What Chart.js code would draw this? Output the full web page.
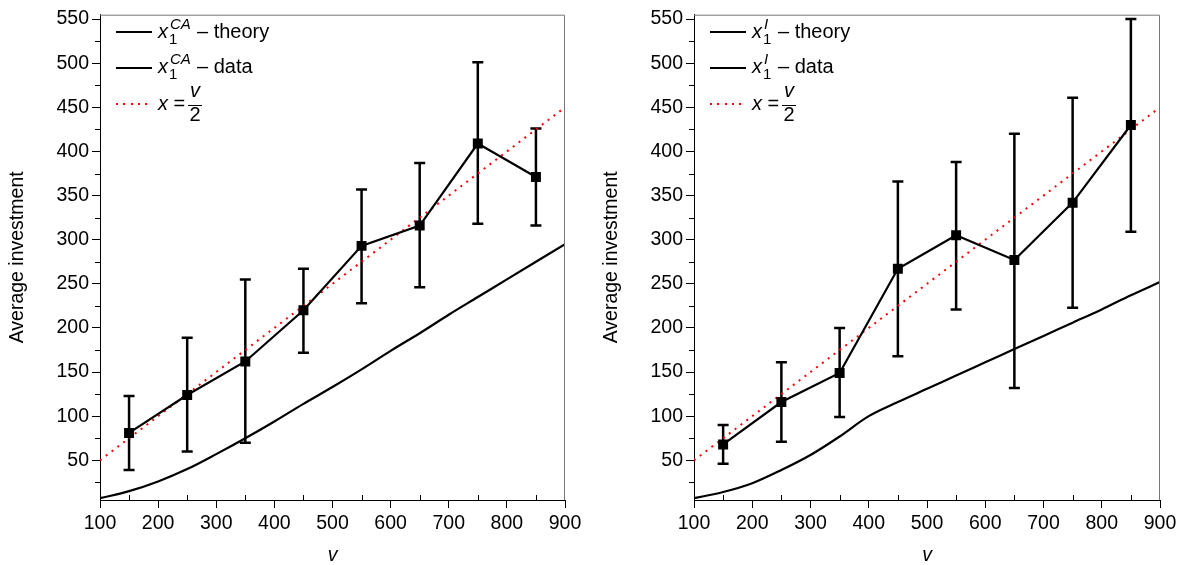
<!DOCTYPE html>
<html>
<head>
<meta charset="utf-8">
<script src="https://cdn.jsdelivr.net/npm/chart.js@4.4.1/dist/chart.umd.min.js"></script>
<style>
    body { margin: 0; background: #fff; width: 1182px; height: 565px; overflow: hidden;
           font-family: "Liberation Sans", Arial, sans-serif; }
    .panel { position: absolute; top: 0; height: 565px; }
    .legend { position: absolute; top: 0; left: 0; font-size: 20px; color: #000; }
    .sample { position: absolute; width: 36px; height: 2px; background: #000; }
    .sample.dots { background: repeating-linear-gradient(to right, #f00 0 2px, transparent 2px 7.3px); }
    .lbl { position: absolute; line-height: 20px; white-space: nowrap; }
    .sm { position: absolute; font-size: 15px; line-height: 15px; white-space: nowrap; }
    .frac { position: absolute; text-align: center; line-height: 16px; }
    .frac .num { display: block; border-bottom: 1.3px solid #000; padding: 0 2px 7px; }
    .frac .den { display: block; }
</style>
</head>
<body>
<div class="panel" id="p1" style="left:0;width:590px"><canvas id="c1"></canvas></div>
<div class="panel" id="p2" style="left:594px;width:588px"><canvas id="c2"></canvas></div>
<script>
// ---- data ----
const vPoints = [150, 250, 350, 450, 550, 650, 750, 850];
const vTheory = [100, 150, 200, 250, 300, 350, 400, 450, 500, 550, 600, 650, 700, 750, 800, 850, 900];

const caTheory = [7, 15, 26, 40, 57, 75, 94, 114, 133, 153, 174, 194, 215, 235, 255, 275, 295];
const caMean = [81, 124, 162, 220, 293, 316, 409, 371];
const caLow = [39, 60, 70, 172, 228, 246, 318, 316];
const caHigh = [123, 189, 255, 267, 357, 387, 501, 426];

const iTheory = [7, 14, 24, 39, 56, 77, 100, 116, 131, 146, 161, 176, 191, 206, 221, 237, 252];
const iMean = [68, 116, 149, 267, 305, 277, 342, 430];
const iLow = [46, 71, 99, 168, 221, 132, 223, 309];
const iHigh = [90, 161, 200, 366, 388, 420, 461, 550];

const refV = [100, 900];
const refX = [50, 450];

const xTicks = [100, 200, 300, 400, 500, 600, 700, 800, 900];
const xMinor = [150, 250, 350, 450, 550, 650, 750, 850];
const yTicks = [50, 100, 150, 200, 250, 300, 350, 400, 450, 500, 550];
const yMinor = [25, 75, 125, 175, 225, 275, 325, 375, 425, 475, 525];

const FONT = "'Liberation Sans', Arial, sans-serif";

// error bars, minor ticks and the top/right frame
const extras = {
    id: "extras",
    beforeDatasetsDraw(chart, args, opts) {
        const { ctx, scales: { x, y } } = chart;
        ctx.save();
        ctx.strokeStyle = "#000";
        ctx.lineWidth = 2.5;
        opts.at.forEach((v, i) => {
            const px = x.getPixelForValue(v);
            const top = y.getPixelForValue(opts.high[i]);
            const bot = y.getPixelForValue(opts.low[i]);
            ctx.beginPath();
            ctx.moveTo(px, top); ctx.lineTo(px, bot);
            ctx.moveTo(px - 5.5, top); ctx.lineTo(px + 5.5, top);
            ctx.moveTo(px - 5.5, bot); ctx.lineTo(px + 5.5, bot);
            ctx.stroke();
        });
        ctx.restore();
    },
    afterDraw(chart) {
        const { ctx, chartArea: a, scales: { x, y } } = chart;
        ctx.save();
        ctx.strokeStyle = "#000";
        ctx.lineWidth = 1;
        ctx.beginPath();
        yMinor.forEach((v) => {
            const py = Math.round(y.getPixelForValue(v)) + 0.5;
            ctx.moveTo(a.left - 5, py); ctx.lineTo(a.left, py);
        });
        xMinor.forEach((v) => {
            const px = Math.round(x.getPixelForValue(v)) + 0.5;
            ctx.moveTo(px, a.bottom); ctx.lineTo(px, a.bottom - 5);
        });
        ctx.stroke();
        ctx.strokeStyle = "#777";
        ctx.beginPath();
        ctx.moveTo(a.left, a.top + 0.5); ctx.lineTo(a.right - 0.5, a.top + 0.5);
        ctx.lineTo(a.right - 0.5, a.bottom);
        ctx.stroke();
        ctx.restore();
    },
};

function makeChart(canvasId, theory, mean, low, high, rightPad) {
    return new Chart(document.getElementById(canvasId), {
        type: "line",
        data: {
            datasets: [
                {
                    label: "data",
                    data: vPoints.map((v, i) => ({ x: v, y: mean[i] })),
                    borderColor: "#000",
                    backgroundColor: "#000",
                    borderWidth: 2.2,
                    pointStyle: "rect",
                    pointRadius: 5.5,
                    tension: 0,
                    order: 1,
                },
                {
                    label: "theory",
                    data: vTheory.map((v, i) => ({ x: v, y: theory[i] })),
                    borderColor: "#000",
                    borderWidth: 2.2,
                    pointRadius: 0,
                    cubicInterpolationMode: "monotone",
                    order: 2,
                },
                {
                    label: "x = v/2",
                    data: refV.map((v, i) => ({ x: v, y: refX[i] })),
                    borderColor: "#f00",
                    borderWidth: 2,
                    borderDash: [2, 5.3],
                    pointRadius: 0,
                    order: 3,
                },
            ],
        },
        options: {
            responsive: true,
            maintainAspectRatio: false,
            animation: false,
            layout: { padding: { top: 11, right: rightPad, left: 0, bottom: 0 } },
            scales: {
                x: {
                    type: "linear",
                    min: 100,
                    max: 900,
                    afterBuildTicks: (s) => { s.ticks = xTicks.map((v) => ({ value: v })); },
                    afterFit: (s) => { s.height = 65; },
                    grid: { display: true, drawOnChartArea: false, tickLength: 8, color: "#000" },
                    border: { display: true, color: "#000", width: 1 },
                    ticks: { color: "#000", padding: 4, font: { family: FONT, size: 19.5 }, maxRotation: 0 },
                    title: {
                        display: true,
                        text: "v",
                        color: "#000",
                        padding: { top: 0, bottom: 0 },
                        font: { family: FONT, size: 19.5, style: "italic", lineHeight: 1 },
                    },
                },
                y: {
                    type: "linear",
                    min: 5,
                    max: 555,
                    afterBuildTicks: (s) => { s.ticks = yTicks.map((v) => ({ value: v })); },
                    afterFit: (s) => { s.width = 100; },
                    grid: { display: true, drawOnChartArea: false, tickLength: 8, color: "#000" },
                    border: { display: true, color: "#000", width: 1 },
                    ticks: { color: "#000", padding: 3, font: { family: FONT, size: 19.5 } },
                    title: {
                        display: true,
                        text: "Average investment",
                        color: "#000",
                        padding: { top: 6, bottom: 0 },
                        font: { family: FONT, size: 19.5 },
                    },
                },
            },
            plugins: {
                legend: { display: false },
                tooltip: { enabled: false },
                extras: { at: vPoints, low: low, high: high },
            },
        },
        plugins: [extras],
    });
}

// legend drawn as real text: x with stacked sub/superscript, then the label
function makeLegend(panelId, sup, restLeft) {
    const row = (lineTop, textTop, label) =>
        `<div class="sample" style="left:116px;top:${lineTop}px"></div>` +
        `<div class="lbl" style="left:158px;top:${textTop}px"><i>x</i></div>` +
        `<div class="sm" style="left:169px;top:${textTop + 10}px">1</div>` +
        `<div class="sm" style="left:170px;top:${textTop - 5}px"><i>${sup}</i></div>` +
        `<div class="lbl" style="left:${restLeft}px;top:${textTop}px">– ${label}</div>`;
    const html =
        `<div class="legend">` +
        row(31, 21, "theory") +
        row(67, 56, "data") +
        `<div class="sample dots" style="left:116px;top:103px"></div>` +
        `<div class="lbl" style="left:158px;top:93px"><i>x</i> =</div>` +
        `<div class="frac" style="left:188px;top:82px"><span class="num"><i>v</i></span><span class="den">2</span></div>` +
        `</div>`;
    document.getElementById(panelId).insertAdjacentHTML("beforeend", html);
}

makeChart("c1", caTheory, caMean, caLow, caHigh, 25);
makeChart("c2", iTheory, iMean, iLow, iHigh, 22);
makeLegend("p1", "CA", 197);
makeLegend("p2", "I", 184);
</script>
</body>
</html>
